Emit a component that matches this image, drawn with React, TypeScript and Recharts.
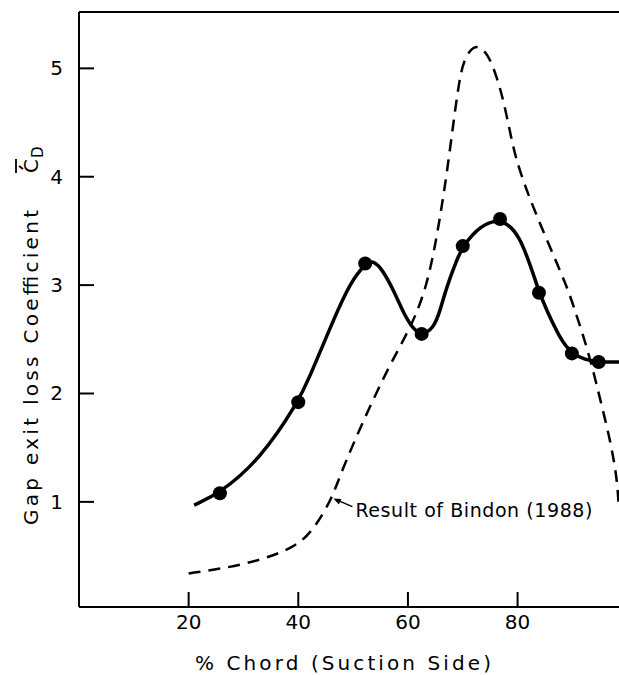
import React from 'react';
import {
  ComposedChart,
  Line,
  XAxis,
  YAxis,
  ReferenceLine,
  ReferenceDot,
} from 'recharts';

// measured points (filled circles)
const dotChord = [25.7, 40, 52.2, 62.5, 70, 76.8, 83.9, 89.9, 94.8];
const dotCd = [1.08, 1.92, 3.2, 2.55, 3.36, 3.61, 2.93, 2.37, 2.29];

// faired curve through the measurements
const curveChord = [21, 25.7, 33, 40, 42.2, 44.6, 47.3, 49.5, 52.2, 53.8, 55.5, 57.4, 59.2, 61, 62.5, 64.7, 65.9, 67.1, 68.9, 70, 73.2, 76.8, 80.5, 83.9, 85.3, 87.8, 89.9, 92.3, 94.8, 98.5];
const curveCd = [0.97, 1.08, 1.39, 1.92, 2.17, 2.46, 2.78, 3.02, 3.2, 3.23, 3.13, 2.95, 2.74, 2.59, 2.54, 2.6, 2.77, 2.99, 3.23, 3.36, 3.55, 3.62, 3.48, 2.93, 2.77, 2.5, 2.37, 2.31, 2.29, 2.29];

// Result of Bindon (1988), dashed
const bindonChord = [20, 26.3, 33, 39.4, 42.8, 46.1, 47.3, 50.1, 55.5, 59.5, 61.6, 63.4, 64.8, 65.9, 67.1, 68.3, 69.2, 70.1, 72.3, 74.7, 76.2, 77.4, 78.6, 79.6, 81.7, 85.3, 89, 90.5, 92, 93.6, 95.1, 96.9, 98.1, 98.4];
const bindonCd = [0.34, 0.385, 0.46, 0.58, 0.74, 1.03, 1.2, 1.55, 2.15, 2.52, 2.74, 3.0, 3.32, 3.64, 4.03, 4.5, 4.83, 5.08, 5.24, 5.13, 4.92, 4.71, 4.42, 4.18, 3.86, 3.42, 2.99, 2.76, 2.53, 2.25, 1.94, 1.57, 1.23, 1.0];

const xTicks = [20, 40, 60, 80];
const yTicks = [1, 2, 3, 4, 5];

const dots = dotChord.map((x, i) => ({ x, y: dotCd[i] }));
const curve = curveChord.map((x, i) => ({ x, y: curveCd[i] }));
const bindon = bindonChord.map((x, i) => ({ x, y: bindonCd[i] }));

const FONT = '"DejaVu Sans", sans-serif';

const YTick = ({ x, y, payload }: any) => (
  <g>
    <line x1={x} x2={x + 15} y1={y} y2={y} stroke="#000" strokeWidth={2} />
    <text x={x - 16} y={y} textAnchor="end" dominantBaseline="central" fontFamily={FONT} fontSize={20} fill="#000">
      {payload.value}
    </text>
  </g>
);

const XTick = ({ x, y, payload }: any) => (
  <g>
    <line x1={x} x2={x} y1={y} y2={y - 15} stroke="#000" strokeWidth={2} />
    <text x={x} y={y + 15} textAnchor="middle" dominantBaseline="central" fontFamily={FONT} fontSize={20} fill="#000">
      {payload.value}
    </text>
  </g>
);

// rotated label; local x runs up the page, local y runs right
const YLabel = () => (
  <g transform="translate(38,525) rotate(-90)" fontFamily={FONT} fill="#000">
    <text x={0} y={0} fontSize={20} textLength={315} lengthAdjust="spacing">
      Gap exit loss Coefficient
    </text>
    <text x={352} y={0} fontSize={20}>C</text>
    <line x1={352} x2={366} y1={-22} y2={-22} stroke="#000" strokeWidth={1.8} />
    <line x1={356} x2={359} y1={-15} y2={-19} stroke="#000" strokeWidth={1.8} />
    <text x={367} y={5} fontSize={15}>D</text>
  </g>
);

const XLabel = () => (
  <text x={195} y={670} fontFamily={FONT} fontSize={20} fill="#000" textLength={296} lengthAdjust="spacing">
    % Chord (Suction Side)
  </text>
);

const BindonNote = ({ cx, cy }: any) => (
  <g>
    <line x1={cx + 5} y1={cy + 2} x2={cx + 19} y2={cy + 8} stroke="#000" strokeWidth={1.5} />
    <path d={`M${cx},${cy} L${cx + 8},${cy + 0.5} L${cx + 5.5},${cy + 6} Z`} fill="#000" />
    <text x={cx + 22} y={cy + 11} dominantBaseline="central" fontFamily={FONT} fontSize={19} fill="#000" textLength={237} lengthAdjust="spacing">
      Result of Bindon (1988)
    </text>
  </g>
);

export default function App() {
  return (
    <div style={{ position: 'absolute', left: 0, top: 0, background: '#fff' }}>
      <ComposedChart width={619} height={675} margin={{ top: 12, right: 0, bottom: 0, left: 0 }}>
        <XAxis
          dataKey="x"
          type="number"
          domain={[0, 98.5]}
          ticks={xTicks}
          allowDataOverflow
          height={68}
          tickSize={0}
          tickMargin={0}
          tickLine={false}
          axisLine={{ stroke: '#000', strokeWidth: 2 }}
          tick={<XTick />}
          label={{ content: <XLabel /> }}
        />
        <YAxis
          type="number"
          domain={[0.03, 5.52]}
          ticks={yTicks}
          allowDataOverflow
          width={79}
          tickSize={0}
          tickMargin={0}
          tickLine={false}
          axisLine={{ stroke: '#000', strokeWidth: 2 }}
          tick={<YTick />}
          label={{ content: <YLabel /> }}
        />
        <ReferenceLine y={5.52} stroke="#000" strokeWidth={2} />
        <Line
          data={bindon}
          dataKey="y"
          type="basis"
          stroke="#000"
          strokeWidth={2.5}
          strokeDasharray="12 8"
          dot={false}
          isAnimationActive={false}
        />
        <Line
          data={curve}
          dataKey="y"
          type="basis"
          stroke="#000"
          strokeWidth={3.5}
          dot={false}
          isAnimationActive={false}
        />
        <Line
          data={dots}
          dataKey="y"
          stroke="none"
          dot={{ r: 7, fill: '#000', stroke: 'none' }}
          isAnimationActive={false}
        />
        <ReferenceDot x={46.4} y={1.03} r={0} shape={<BindonNote />} />
      </ComposedChart>
    </div>
  );
}
